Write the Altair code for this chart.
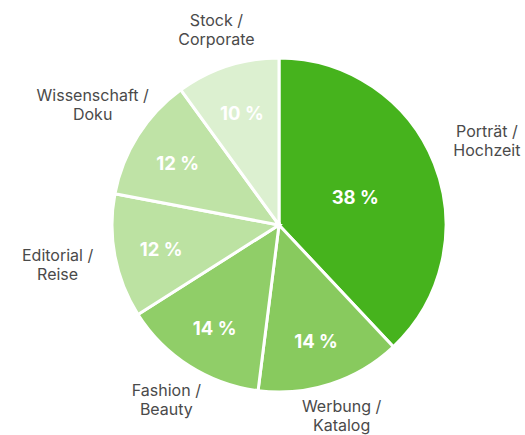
import altair as alt
import pandas as pd
import math

categories = ["Porträt / Hochzeit", "Werbung / Katalog", "Fashion / Beauty",
              "Editorial / Reise", "Wissenschaft / Doku", "Stock / Corporate"]
label_lines = [["Porträt /", "Hochzeit"], ["Werbung /", "Katalog"], ["Fashion /", "Beauty"],
               ["Editorial /", "Reise"], ["Wissenschaft /", "Doku"], ["Stock /", "Corporate"]]
values = [38, 14, 14, 12, 12, 10]
colors = ["#46b31d", "#88ca5e", "#90ce68", "#bce2a2", "#bfe3a6", "#dcf0d0"]

df = pd.DataFrame({
    "cat": categories,
    "value": values,
    "idx": list(range(len(values))),
    "pct": [f"{v} %" for v in values],
    "lab": ["\n".join(l) for l in label_lines],
})

theta_scale = alt.Scale(domain=[0, 100], range=[0, 2 * math.pi])

base = alt.Chart(df).transform_window(
    end="sum(value)", sort=[alt.SortField("idx")]
).transform_calculate(
    start="datum.end - datum.value",
    mid="datum.end - datum.value / 2",
    ang="(datum.end - datum.value / 2) / 100 * 2 * PI",
)

arcs = base.mark_arc(radius=167, stroke="white", strokeWidth=3).encode(
    theta=alt.Theta("start:Q", scale=theta_scale),
    theta2="end:Q",
    color=alt.Color("cat:N", scale=alt.Scale(domain=categories, range=colors), legend=None),
)

pct = base.transform_calculate(
    r="datum.value > 30 ? 82 : 120"
).mark_text(font="Inter", fontSize=18.5, fontWeight="bold", color="white", dy=3).encode(
    theta=alt.Theta("mid:Q", scale=theta_scale),
    radius=alt.Radius("r:Q", scale=None),
    text="pct:N",
)

labels = base.transform_calculate(
    r2="192 + 34 * abs(sin(datum.ang))"
).mark_text(font="Inter", fontSize=16, color="#4a4a4a",
            lineBreak="\n", lineHeight=19, align="center", dy=-11).encode(
    theta=alt.Theta("mid:Q", scale=theta_scale),
    radius=alt.Radius("r2:Q", scale=None),
    text="lab:N",
)

chart = alt.layer(arcs, pct, labels).properties(
    width=492, height=420,
    padding={"left": 33, "top": 15, "right": 0, "bottom": 0},
    autosize=alt.AutoSizeParams(type="none"),
).configure_view(stroke=None).configure(background="white")

chart.save("out.html", embed_options={"renderer": "svg", "actions": False})
